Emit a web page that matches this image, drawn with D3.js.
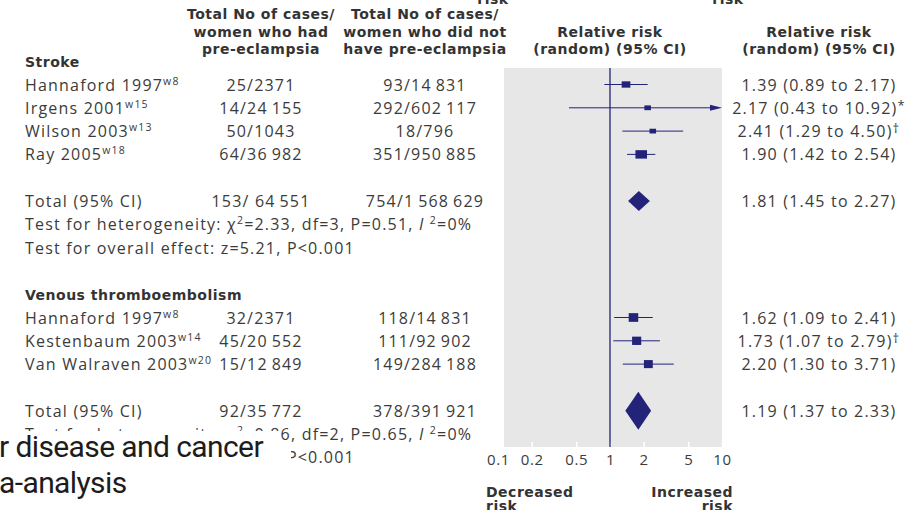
<!DOCTYPE html>
<html>
<head>
<meta charset="utf-8">
<script src="https://cdn.jsdelivr.net/npm/d3@7"></script>
<style>
  html, body { margin: 0; padding: 0; background: #fff; }
  svg { display: block; }
  .body { font-family: "Open Sans", sans-serif; font-size: 16px; fill: #3b3b3b; letter-spacing: 1.2px; }
  .head { font-family: "DejaVu Sans", sans-serif; font-weight: bold; font-size: 14px; fill: #333; letter-spacing: 0.5px; }
</style>
</head>
<body>
<div id="chart"></div>
<script>
// stroke studies
const strokeStudies = ["Hannaford 1997", "Irgens 2001", "Wilson 2003", "Ray 2005"];
const strokeRefs = ["w8", "w15", "w13", "w18"];
const strokeCases = ["25/2371", "14/24\u2009155", "50/1043", "64/36\u2009982"];
const strokeControls = ["93/14\u2009831", "292/602\u2009117", "18/796", "351/950\u2009885"];
const strokeRR = [1.39, 2.17, 2.41, 1.90];
const strokeLo = [0.89, 0.43, 1.29, 1.42];
const strokeHi = [2.17, 10.92, 4.50, 2.54];
const strokeWeight = [30, 17, 17, 53];
const strokeNote = ["", "*", "†", ""];

// venous thromboembolism studies
const vteStudies = ["Hannaford 1997", "Kestenbaum 2003", "Van Walraven 2003"];
const vteRefs = ["w8", "w14", "w20"];
const vteCases = ["32/2371", "45/20\u2009552", "15/12\u2009849"];
const vteControls = ["118/14\u2009831", "111/92\u2009902", "149/284\u2009188"];
const vteRR = [1.62, 1.73, 2.20];
const vteLo = [1.09, 1.07, 1.30];
const vteHi = [2.41, 2.79, 3.71];
const vteWeight = [36, 33, 31];
const vteNote = ["", "†", ""];

// pooled results
const groupNames = ["Stroke", "Venous thromboembolism"];
const totalCases = ["153/ 64\u2009551", "92/35\u2009772"];
const totalControls = ["754/1\u2009568\u2009629", "378/391\u2009921"];
const totalRR = [1.81, 1.79];
const totalLo = [1.45, 1.37];
const totalHi = [2.27, 2.33];
const totalText = ["1.81 (1.45 to 2.27)", "1.19 (1.37 to 2.33)"];
const hetChi = ["2.33", "0.86"];
const hetDf = ["3", "2"];
const hetP = ["0.51", "0.65"];
const hetI2 = ["0%", "0%"];
const overallZ = ["5.21", "4.37"];
const overallP = ["<0.001", "<0.001"];

const tickValues = [0.1, 0.2, 0.5, 1, 2, 5, 10];

const W = 922, H = 510;
const navy = "#23237a";
const svg = d3.select("#chart").append("svg").attr("width", W).attr("height", H);

const groups = [
  { name: groupNames[0], start: -1, studies: strokeStudies, refs: strokeRefs, cases: strokeCases,
    controls: strokeControls, rr: strokeRR, lo: strokeLo, hi: strokeHi, w: strokeWeight, note: strokeNote, squash: 0.8, dh: 10 },
  { name: groupNames[1], start: 9, studies: vteStudies, refs: vteRefs, cases: vteCases,
    controls: vteControls, rr: vteRR, lo: vteLo, hi: vteHi, w: vteWeight, note: vteNote, squash: 1, dh: 19 }
];

const colName = 25, colCases = 261, colControls = 425, colRR = 819;
const y = d3.scaleLinear().domain([0, 1]).range([84.5, 107.8]);
const x = d3.scaleLog().domain([0.1, 10]).range([498, 722]);
const box = d3.scaleSqrt().domain([0, 60]).range([0, 11.2]);
const plotTop = 68, plotBottom = 447;

// cut-off labels from the panel above
svg.selectAll(".cut").data([[493, "risk"], [728, "risk"]]).join("text")
  .attr("class", "head").attr("x", d => d[0]).attr("y", 4).attr("text-anchor", "middle").text(d => d[1]);

// column headers
const hdr = [
  [colCases, ["Total No of cases/", "women who had", "pre-eclampsia"]],
  [colControls, ["Total No of cases/", "women who did not", "have pre-eclampsia"]],
  [610, ["", "Relative risk", "(random) (95% CI)"]],
  [colRR, ["", "Relative risk", "(random) (95% CI)"]]
];
hdr.forEach(([cx, lines]) => {
  lines.forEach((t, i) => {
    svg.append("text").attr("class", "head").attr("x", cx).attr("y", 19 + i * 17.5)
      .attr("text-anchor", "middle").text(t);
  });
});

// grey plot panel
svg.append("rect").attr("x", 504).attr("y", plotTop).attr("width", x(10) - 504)
  .attr("height", plotBottom - plotTop).attr("fill", "#e7e7e7");

// axis
const axis = svg.append("g").attr("transform", `translate(0,${plotBottom})`)
  .call(d3.axisBottom(x).tickValues(tickValues).tickFormat(d => d).tickSize(-5).tickPadding(7));
axis.select(".domain").remove();
axis.selectAll(".tick line").attr("stroke", "#fff").attr("stroke-width", 1.5);
axis.selectAll(".tick text").attr("class", "body").attr("font-size", null).attr("font-family", null)
  .attr("fill", null).style("font-size", "15px").style("letter-spacing", "0.6px");

// line of no effect
svg.append("line").attr("x1", x(1)).attr("x2", x(1)).attr("y1", plotTop).attr("y2", plotBottom)
  .attr("stroke", navy).attr("stroke-width", 1.3);

function supText(sel, parts) {
  parts.forEach(p => {
    const ts = sel.append("tspan").text(p.t);
    if (p.sup) ts.attr("font-size", "10.5px").attr("dy", -6);
    if (p.mark) ts.attr("font-size", "13px").attr("dy", -4);
    if (p.down) ts.attr("dy", 6);
    if (p.it) ts.attr("font-style", "italic");
  });
}

groups.forEach((g, gi) => {
  const s = g.start;
  svg.append("text").attr("class", "head").attr("x", colName).attr("y", y(s) + 6).text(g.name);

  g.studies.forEach((name, i) => {
    const r = s + 1 + i, cy = y(r), by = cy + 6;
    const t = svg.append("text").attr("class", "body").attr("x", colName).attr("y", by);
    supText(t, [{ t: name }, { t: g.refs[i], sup: true }]);
    svg.append("text").attr("class", "body").attr("x", colCases).attr("y", by).attr("text-anchor", "middle").text(g.cases[i]);
    svg.append("text").attr("class", "body").attr("x", colControls).attr("y", by).attr("text-anchor", "middle").text(g.controls[i]);
    const rt = svg.append("text").attr("class", "body").attr("x", colRR).attr("y", by).attr("text-anchor", "middle");
    supText(rt, [{ t: `${g.rr[i].toFixed(2)} (${g.lo[i].toFixed(2)} to ${g.hi[i].toFixed(2)})` },
                 ...(g.note[i] ? [{ t: g.note[i], mark: true }] : [])]);

    const xEnd = g.hi[i] > 10 ? x(10) - 10 : x(g.hi[i]);
    svg.append("line").attr("x1", x(g.lo[i])).attr("x2", xEnd).attr("y1", cy).attr("y2", cy)
      .attr("stroke", navy).attr("stroke-width", 1);
    if (g.hi[i] > 10) {
      const tip = x(10);
      svg.append("path").attr("d", `M${tip},${cy} L${tip - 12},${cy - 3} L${tip - 12},${cy + 3} Z`).attr("fill", navy);
    }
    const b = box(g.w[i]);
    svg.append("rect").attr("x", x(g.rr[i]) - b * 0.55).attr("y", cy - b * g.squash / 2)
      .attr("width", b * 1.1).attr("height", b * g.squash).attr("fill", navy);
  });

  // pooled row
  const tr = s + g.studies.length + 2, ty = y(tr), tb = ty + 6;
  svg.append("text").attr("class", "body").attr("x", colName).attr("y", tb).text("Total (95% CI)");
  svg.append("text").attr("class", "body").attr("x", colCases).attr("y", tb).attr("text-anchor", "middle").text(totalCases[gi]);
  svg.append("text").attr("class", "body").attr("x", colControls).attr("y", tb).attr("text-anchor", "middle").text(totalControls[gi]);
  svg.append("text").attr("class", "body").attr("x", colRR).attr("y", tb).attr("text-anchor", "middle").text(totalText[gi]);
  svg.append("path")
    .attr("d", `M${x(totalLo[gi])},${ty} L${x(totalRR[gi])},${ty - g.dh} L${x(totalHi[gi])},${ty} L${x(totalRR[gi])},${ty + g.dh} Z`)
    .attr("fill", navy);

  const ht = svg.append("text").attr("class", "body").attr("x", colName).attr("y", y(tr + 1) + 6);
  supText(ht, [{ t: "Test for heterogeneity: χ" }, { t: "2", sup: true },
               { t: `=${hetChi[gi]}, df=${hetDf[gi]}, P=${hetP[gi]}, `, down: true },
               { t: "I", it: true }, { t: " " }, { t: "2", sup: true }, { t: `=${hetI2[gi]}`, down: true }]);
  svg.append("text").attr("class", "body").attr("x", colName).attr("y", y(tr + 2) + 6)
    .text(`Test for overall effect: z=${overallZ[gi]}, P${overallP[gi]}`);
});

// direction labels
svg.append("text").attr("class", "head").attr("x", 486).attr("y", 497).text("Decreased");
svg.append("text").attr("class", "head").attr("x", 486).attr("y", 511).text("risk");
svg.append("text").attr("class", "head").attr("x", 733).attr("y", 497).attr("text-anchor", "end").text("Increased");
svg.append("text").attr("class", "head").attr("x", 733).attr("y", 511).attr("text-anchor", "end").text("risk");

// overlapping page title fragment
svg.append("rect").attr("x", 0).attr("y", 431).attr("width", 281).attr("height", 20).attr("fill", "#fff");
svg.append("rect").attr("x", 0).attr("y", 450).attr("width", 291).attr("height", 60).attr("fill", "#fff");
["r disease and cancer", "a-analysis"].forEach((t, i) => {
  svg.append("text").attr("x", -1).attr("y", 457 + i * 36)
    .attr("font-family", "Roboto, sans-serif").attr("font-size", 30).attr("fill", "#1c1c1c")
    .style("letter-spacing", "-0.6px").text(t);
});
</script>
</body>
</html>
